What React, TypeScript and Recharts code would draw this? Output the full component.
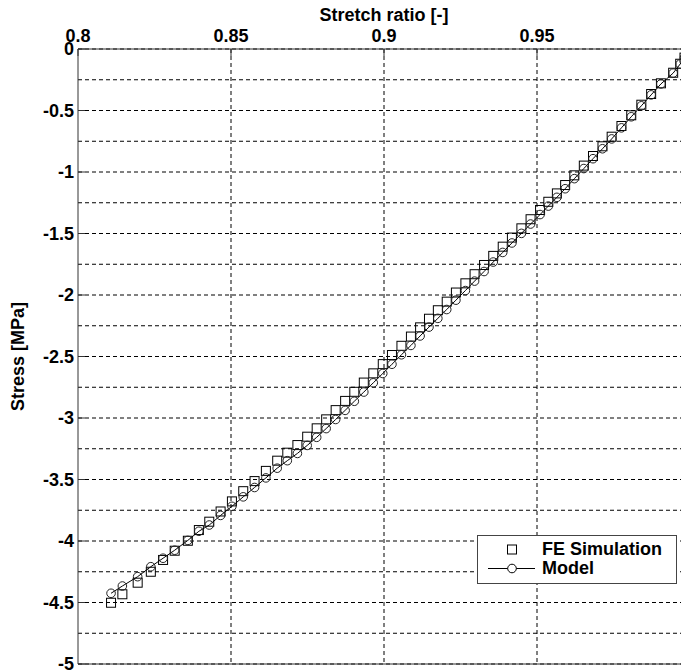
import React from "react";
import {
  LineChart,
  Line,
  XAxis,
  YAxis,
  CartesianGrid,
  Legend,
  Label,
} from "recharts";

// Stretch ratio [-] (shared x values of both series)
const stretch = [
  0.8108, 0.8145, 0.8195, 0.8238, 0.8278, 0.8316, 0.8359, 0.8395, 0.8429,
  0.8466, 0.8503, 0.854, 0.8577, 0.8614, 0.8651,
  0.8684, 0.8717, 0.8749, 0.878, 0.8811,
  0.8842, 0.8873, 0.8903, 0.8934, 0.8965, 0.8996, 0.9026, 0.9057, 0.9088, 0.9118,
  0.9147, 0.9176, 0.9205,
  0.9235, 0.9266, 0.9296, 0.9327, 0.9357, 0.9388, 0.9418, 0.9449, 0.9479, 0.951,
  0.9537, 0.9565, 0.9592,
  0.9622, 0.9653, 0.9683, 0.9714, 0.9744,
  0.9776, 0.9808, 0.9841, 0.9873, 0.9905,
  0.9945, 0.9968, 0.9982, 0.9993, 1.0,
];

// FE Simulation stress [MPa]
const feStress = [
  -4.502, -4.433, -4.339, -4.25, -4.154, -4.079, -3.998, -3.911, -3.843,
  -3.76, -3.678, -3.595, -3.513, -3.43, -3.347,
  -3.282, -3.22, -3.152, -3.084, -3.011,
  -2.936, -2.861, -2.787, -2.712, -2.637, -2.562, -2.488, -2.413, -2.338, -2.263,
  -2.193, -2.124, -2.054,
  -1.98, -1.905, -1.831, -1.756, -1.682, -1.607, -1.533, -1.458, -1.384, -1.309,
  -1.242, -1.174, -1.106,
  -1.027, -0.948, -0.87, -0.791, -0.713,
  -0.626, -0.539, -0.453, -0.366, -0.279,
  -0.193, -0.12, -0.07, -0.03, 0.0,
];

// Model stress [MPa]
const modelStress = [
  -4.425, -4.366, -4.29, -4.209, -4.14, -4.075, -3.995, -3.921, -3.87,
  -3.792, -3.718, -3.641, -3.565, -3.487, -3.408,
  -3.347, -3.288, -3.223, -3.157, -3.086,
  -3.012, -2.938, -2.864, -2.789, -2.714, -2.638, -2.563, -2.486, -2.41, -2.333,
  -2.261, -2.19, -2.118,
  -2.042, -1.964, -1.887, -1.809, -1.732, -1.654, -1.577, -1.499, -1.423, -1.346,
  -1.277, -1.206, -1.136,
  -1.054, -0.972, -0.892, -0.811, -0.731,
  -0.641, -0.551, -0.462, -0.373, -0.284,
  -0.196, -0.122, -0.071, -0.03, 0.0,
];

const xTicks = [0.8, 0.85, 0.9, 0.95, 1];
const xGrid = [0.85, 0.9, 0.95];
const yTicks = [0, -0.5, -1, -1.5, -2, -2.5, -3, -3.5, -4, -4.5, -5];
const yGrid = [
  0, -0.25, -0.5, -0.75, -1, -1.25, -1.5, -1.75, -2, -2.25, -2.5, -2.75, -3,
  -3.25, -3.5, -3.75, -4, -4.25, -4.5, -4.75, -5,
];

const seriesNames = { fe: "FE Simulation", model: "Model" };

const rows = stretch.map((s, i) => ({
  x: s,
  fe: feStress[i],
  model: modelStress[i],
}));

const FONT = "'Liberation Sans', Arial, sans-serif";
const tickStyle = { fill: "#000", fontSize: 18, fontWeight: "bold", fontFamily: FONT };
const AXIS = "#333";

const SquareDot = (props: any) => {
  const { cx, cy, index } = props;
  if (cx == null || cy == null) return <g key={`s-${index}`} />;
  return (
    <rect
      key={`s-${index}`}
      x={cx - 4.5}
      y={cy - 4.5}
      width={9}
      height={9}
      fill="none"
      stroke="#000"
      strokeWidth={1}
    />
  );
};

const CircleDot = (props: any) => {
  const { cx, cy, index } = props;
  if (cx == null || cy == null) return <g key={`c-${index}`} />;
  return (
    <circle
      key={`c-${index}`}
      cx={cx}
      cy={cy}
      r={4.3}
      fill="none"
      stroke="#222"
      strokeWidth={1}
    />
  );
};

const LegendBox = (props: any) => {
  const payload = props.payload || [];
  return (
    <div
      style={{
        border: "1px solid #444",
        background: "#fff",
        width: 198,
        padding: "4px 0 5px 0",
        fontFamily: FONT,
        fontWeight: "bold",
        fontSize: 18,
        color: "#000",
      }}
    >
      {payload.map((p: any) => (
        <div
          key={p.value}
          style={{ display: "flex", alignItems: "center", height: 19, lineHeight: "19px" }}
        >
          <svg width={64} height={19} style={{ display: "block" }}>
            {p.dataKey === "model" ? (
              <>
                <line x1={10} y1={9.5} x2={57} y2={9.5} stroke="#000" strokeWidth={1} />
                <circle cx={34} cy={9.5} r={4.3} fill="#fff" stroke="#000" strokeWidth={1} />
              </>
            ) : (
              <rect x={29.5} y={5} width={9} height={9} fill="none" stroke="#000" strokeWidth={1} />
            )}
          </svg>
          <span>{p.value}</span>
        </div>
      ))}
    </div>
  );
};

export default function App() {
  return (
    <div style={{ width: 681, height: 663, overflow: "hidden", fontFamily: FONT }}>
      <LineChart
        width={700}
        height={663}
        data={rows}
        margin={{ top: 17, left: 10, right: 18, bottom: 2 }}
      >
        <CartesianGrid
          stroke="#000"
          strokeDasharray="4 3"
          horizontalValues={yGrid}
          verticalValues={xGrid}
          yAxisId="left"
          xAxisId="top"
        />
        <XAxis
          xAxisId="top"
          dataKey="x"
          type="number"
          orientation="top"
          domain={[0.8, 1]}
          ticks={xTicks}
          interval={0}
          height={24}
          tickSize={-7}
          tickMargin={14}
          tick={tickStyle}
          stroke={AXIS}
          allowDataOverflow
        >
          <Label
            value="Stretch ratio [-]"
            position="top"
            offset={4}
            style={{ fill: "#000", fontSize: 18, fontWeight: "bold", fontFamily: FONT }}
          />
        </XAxis>
        <XAxis
          xAxisId="bottom"
          dataKey="x"
          type="number"
          orientation="bottom"
          domain={[0.8, 1]}
          ticks={xTicks}
          interval={0}
          height={5}
          tickSize={-7}
          tick={false}
          stroke={AXIS}
          allowDataOverflow
        />
        <YAxis
          yAxisId="left"
          type="number"
          domain={[-5, 0]}
          ticks={yTicks}
          interval={0}
          width={60}
          tickSize={-7}
          tickMargin={11}
          tick={tickStyle}
          stroke={AXIS}
          allowDataOverflow
        >
          <Label
            value="Stress [MPa]"
            angle={-90}
            position="insideLeft"
            offset={0}
            style={{
              fill: "#000",
              fontSize: 18,
              fontWeight: "bold",
              fontFamily: FONT,
              textAnchor: "middle",
            }}
          />
        </YAxis>
        <Legend
          content={<LegendBox />}
          layout="horizontal"
          verticalAlign="middle"
          align="center"
          wrapperStyle={{ left: 469, top: 527, width: 200 }}
        />
        <Line
          xAxisId="top"
          yAxisId="left"
          dataKey="fe"
          name={seriesNames.fe}
          stroke="none"
          dot={SquareDot}
          activeDot={false}
          isAnimationActive={false}
          legendType="square"
        />
        <Line
          xAxisId="top"
          yAxisId="left"
          dataKey="model"
          name={seriesNames.model}
          stroke="#000"
          strokeWidth={1}
          dot={CircleDot}
          activeDot={false}
          isAnimationActive={false}
          legendType="circle"
        />
      </LineChart>
    </div>
  );
}
